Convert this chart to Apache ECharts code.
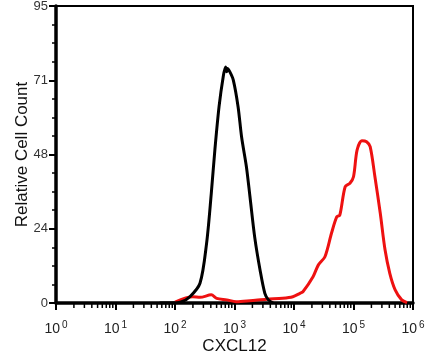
<!DOCTYPE html>
<html>
<head>
<meta charset="utf-8">
<script src="https://cdn.jsdelivr.net/npm/echarts@6/dist/echarts.min.js"></script>
<style>html,body{margin:0;padding:0;background:#fff}#c{width:432px;height:357px}</style>
</head>
<body>
<div id="c"></div>
<script>
// CXCL12 fluorescence (x, log scale) and relative cell count (y)
const controlX = [55, 81, 126, 178, 263, 339, 407, 468, 550, 646, 708, 741, 759, 832, 955, 1148, 1318, 1585, 1820, 2188, 2692, 3236, 3715, 4467];
const controlY = [0, 0, 0.3, 2, 6.3, 19, 35, 49, 62.8, 72.4, 75.5, 74, 75, 74, 71.3, 62.8, 53, 43.6, 34, 21, 10.5, 3.1, 1, 0];
const cxcl12X = [100, 200, 263, 407, 501, 741, 1072, 1820, 3467, 6457, 9550, 12589, 14125, 20893, 25704, 33113, 42658, 52481, 58884, 72444, 87096, 100000, 114815, 138038, 165959, 190546, 229087, 281838, 338844, 407380, 501187, 645654, 794328];
const cxcl12Y = [0.3, 2, 1.8, 2.6, 1.5, 1, 0.4, 0.7, 1.2, 1.5, 2, 3.1, 3.6, 8.4, 12.2, 14.8, 22.3, 27.6, 28.1, 37.2, 38.3, 40.4, 48.9, 51.9, 51.6, 50, 40.4, 28.7, 17, 9.5, 4.2, 1, 0.1];
const yTickLabels = ['0', '24', '48', '71', '95'];
const xDecadeExponents = ['0', '1', '2', '3', '4', '5', '6'];

const minorX = [];
for (let d = 0; d < 6; d++) for (let k = 2; k <= 9; k++) minorX.push(k * Math.pow(10, d));

const chart = echarts.init(document.getElementById('c'), null, {renderer: 'canvas'});
const font = 'Liberation Sans, Arial, sans-serif';
chart.setOption({
  animation: false,
  grid: {left: 56, right: 19, top: 6, bottom: 54, show: true, borderColor: '#000', borderWidth: 2,
         outerBoundsMode: 'none', containLabel: false},
  xAxis: {
    type: 'log', logBase: 10, min: 1, max: 1e6,
    splitLine: {show: false}, minorTick: {show: false},
    name: 'CXCL12', nameLocation: 'middle', nameGap: 35, nameMoveOverlap: false,
    nameTextStyle: {fontFamily: font, fontSize: 17, color: '#111'},
    axisLine: {lineStyle: {color: '#000', width: 3.5}},
    axisTick: {show: true, length: 7, lineStyle: {color: '#000', width: 2}},
    axisLabel: {
      margin: 17,
      formatter: v => '{b|10}{s|' + xDecadeExponents[Math.round(Math.log10(v))] + '}',
      rich: {
        b: {fontFamily: font, fontSize: 14, color: '#222'},
        s: {fontFamily: font, fontSize: 10, color: '#222', verticalAlign: 'top', padding: [0, 0, 9, 2]}
      }
    }
  },
  yAxis: {
    type: 'value', min: 0, max: 95, interval: 23.75,
    name: 'Relative Cell Count', nameLocation: 'middle', nameGap: 25, nameMoveOverlap: false,
    nameTextStyle: {fontFamily: font, fontSize: 17, color: '#111'},
    axisLine: {show: true, lineStyle: {color: '#000', width: 3.5}},
    axisTick: {show: true, length: 7, lineStyle: {color: '#000', width: 2}},
    minorTick: {show: true, splitNumber: 4, length: 4, lineStyle: {color: '#000', width: 1.5}},
    splitLine: {show: false},
    axisLabel: {
      margin: 8, fontFamily: font, fontSize: 13, color: '#333',
      formatter: (v, i) => yTickLabels[i]
    }
  },
  series: [
    {
      type: 'line', data: cxcl12X.map((x, i) => [x, cxcl12Y[i]]),
      showSymbol: false, smooth: 0.3, lineStyle: {color: '#ee1111', width: 3}, z: 2
    },
    {
      type: 'line', data: controlX.map((x, i) => [x, controlY[i]]),
      showSymbol: false, smooth: 0.3, lineStyle: {color: '#000', width: 3}, z: 3
    },
    {
      type: 'custom', clip: false, silent: true, z: 1,
      data: minorX.map(x => [x, 0]),
      renderItem: (params, api) => {
        const p = api.coord([api.value(0), 0]);
        return {type: 'line', shape: {x1: p[0], y1: p[1], x2: p[0], y2: p[1] + 5},
                style: {stroke: '#000', lineWidth: 1.5}};
      }
    }
  ]
});
</script>
</body>
</html>
